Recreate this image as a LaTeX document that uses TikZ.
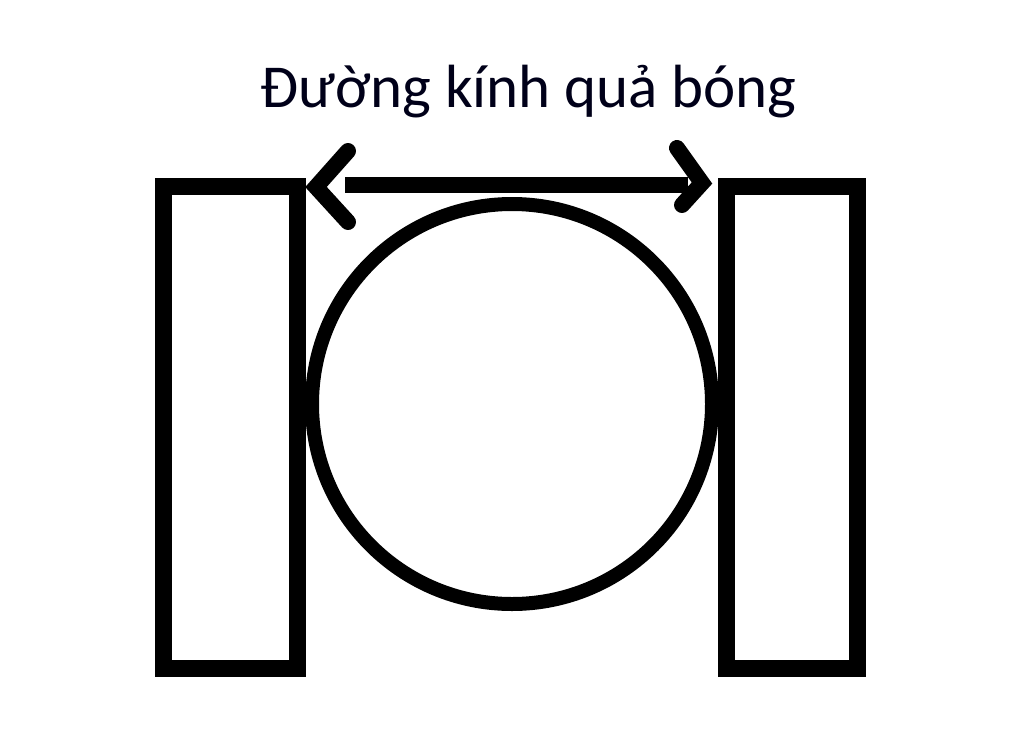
\documentclass[tikz,border=0pt]{standalone}
\usepackage{fontspec}
\setmainfont{Carlito}
\begin{document}
\begin{tikzpicture}[x=1pt,y=-1pt,
  frame/.style={draw=black,line width=17pt,line join=miter},
  ball/.style={draw=black,line width=14pt},
  shaft/.style={draw=black,line width=16pt,line cap=butt},
  chevron/.style={draw=black,line width=16pt,line cap=round,line join=miter},
  label/.style={font=\fontsize{61}{68}\selectfont,text=black!90!blue,inner sep=0pt,anchor=base}]
\useasboundingbox (0,0) rectangle (1024,744);
\fill[white] (0,0) rectangle (1024,744);
% walls
\draw[frame] (163.5,186) rectangle (297.5,668.5);
\draw[frame] (726,186) rectangle (857.5,668.5);
% ball
\node[ball,circle,minimum size=400pt,inner sep=0pt] (ball) at (512,404) {};
% diameter arrow
\coordinate (shaftL) at (345,185);
\coordinate (shaftR) at (688,185);
\draw[shaft] (shaftL) -- (shaftR);
\coordinate (tipL) at (316,187);
\coordinate (tipR) at (702,183);
\draw[chevron] (348,151) -- (tipL) -- (348,222);
\draw[chevron] (677,148) -- (tipR) -- (682,205);
% label
\node[label] (title) at (528.5,107) {Đường kính quả bóng};
\end{tikzpicture}
\end{document}
